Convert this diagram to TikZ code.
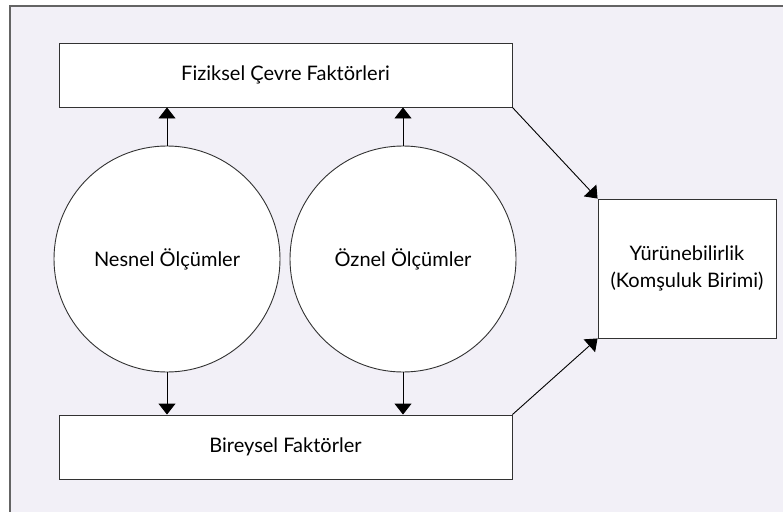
\documentclass[tikz,border=0pt]{standalone}
\usepackage{fontspec}
\setmainfont{Lato}
\usetikzlibrary{arrows.meta}
\definecolor{bgl}{RGB}{242,240,247}
\definecolor{frm}{RGB}{100,100,100}
\definecolor{edg}{RGB}{50,50,50}
\begin{document}
\begin{tikzpicture}[x=1pt,y=-1pt,
  box/.style={draw=edg,line width=0.9pt,fill=white,rectangle,inner sep=0pt,font=\fontsize{20}{27}\selectfont,align=center},
  circ/.style={draw=edg,line width=0.9pt,fill=white,circle,minimum size=226pt,inner sep=0pt,font=\fontsize{20}{27}\selectfont},
  arr/.style={draw=black,line width=0.9pt,-{Triangle[width=17pt,length=11pt]}}]
\useasboundingbox (0,0) rectangle (783,511);
\fill[white] (0,0) rectangle (783,511);
\draw[frm,line width=1.3pt,fill=bgl] (10,6) rectangle (800,530);
\node[box,minimum width=453pt,minimum height=64pt] (top) at (285.5,75) {Fiziksel Çevre Faktörleri};
\node[box,minimum width=453pt,minimum height=64pt] (bot) at (285.5,447) {Bireysel Faktörler};
\node[box,minimum width=178pt,minimum height=139pt] (right) at (687,268.5) {Yürünebilirlik\\(Komşuluk Birimi)};
\node[circ] (c1) at (167,259) {Nesnel Ölçümler};
\node[circ] (c2) at (403,259) {Öznel Ölçümler};
\draw[arr] (c1.north) -- (c1.north |- top.south);
\draw[arr] (c2.north) -- (c2.north |- top.south);
\draw[arr] (c1.south) -- (c1.south |- bot.north);
\draw[arr] (c2.south) -- (c2.south |- bot.north);
\draw[arr] (top.south east) -- (right.north west);
\draw[arr] (bot.north east) -- (right.south west);
\end{tikzpicture}
\end{document}
